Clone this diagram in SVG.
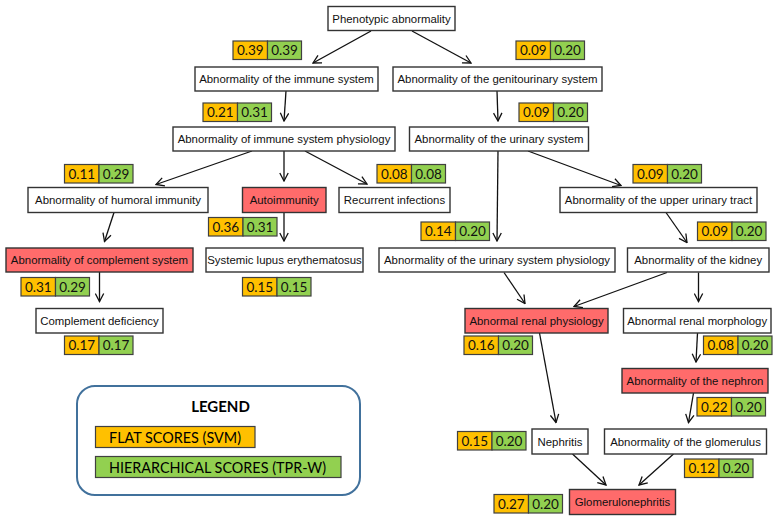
<svg xmlns="http://www.w3.org/2000/svg" width="779" height="520" viewBox="0 0 779 520">
<style>
.n rect{fill:#fff;stroke:#333;stroke-width:1.4}
.n.r rect{fill:#FF6B6B}
.n text{font-family:"Liberation Sans",Arial,sans-serif;font-size:11.4px;fill:#111;text-anchor:middle}
.o{fill:#FFC000;stroke:#404040;stroke-width:1.2}
.g{fill:#92D050;stroke:#404040;stroke-width:1.2}
.s text{font-family:Lato,"Open Sans",sans-serif;font-size:13.5px;fill:#111;text-anchor:middle}
#edges line{stroke:#111;stroke-width:1.3;marker-end:url(#ah)}
.lg{font-family:Lato,"Open Sans",sans-serif;fill:#000}
</style>
<defs>
<marker id="ah" viewBox="0 0 10 10" refX="9" refY="5" markerWidth="10" markerHeight="10" markerUnits="userSpaceOnUse" orient="auto">
<path d="M1,0.8 L9,5 L1,9.2" fill="none" stroke="#111" stroke-width="1.3"/>
</marker>
</defs>
<rect width="779" height="520" fill="#fff"/>

<g id="edges">
<line x1="371" y1="31" x2="313" y2="63"/>
<line x1="412" y1="31" x2="471" y2="63"/>
<line x1="286" y1="91" x2="284" y2="121"/>
<line x1="497" y1="91" x2="498" y2="121"/>
<line x1="252" y1="151" x2="156" y2="184.5"/>
<line x1="284" y1="151" x2="284" y2="181"/>
<line x1="305" y1="151" x2="367" y2="184"/>
<line x1="498" y1="151" x2="497" y2="241"/>
<line x1="528" y1="151" x2="621" y2="185.5"/>
<line x1="114" y1="212.5" x2="104.5" y2="241.5"/>
<line x1="284" y1="212.5" x2="284" y2="241"/>
<line x1="99.5" y1="272" x2="99.5" y2="301.5"/>
<line x1="666" y1="212.5" x2="687" y2="242.5"/>
<line x1="504" y1="272.5" x2="525" y2="303.5"/>
<line x1="667" y1="272.5" x2="574" y2="306.5"/>
<line x1="698.5" y1="272.5" x2="698.5" y2="301.5"/>
<line x1="539.5" y1="333" x2="556" y2="422.5"/>
<line x1="697.5" y1="333" x2="696" y2="362"/>
<line x1="693.5" y1="393" x2="688.5" y2="422.5"/>
<line x1="572.5" y1="454" x2="606" y2="485"/>
<line x1="673.5" y1="454" x2="639" y2="485"/>
</g>

<g id="n-phenotypic" class="n"><rect x="328" y="6.5" width="127" height="24"/><text x="391.5" y="22.5">Phenotypic abnormality</text></g>
<g id="n-immune" class="n"><rect x="195" y="67" width="183" height="24"/><text x="286.5" y="83">Abnormality of the immune system</text></g>
<g id="n-genito" class="n"><rect x="393" y="67" width="209" height="24"/><text x="497.5" y="83">Abnormality of the genitourinary system</text></g>
<g id="n-immphys" class="n"><rect x="173" y="127" width="222" height="24"/><text x="284" y="143">Abnormality of immune system physiology</text></g>
<g id="n-urinary" class="n"><rect x="409.5" y="127" width="179" height="24"/><text x="499" y="143">Abnormality of the urinary system</text></g>
<g id="n-humoral" class="n"><rect x="28" y="187.5" width="180" height="25"/><text x="118" y="204">Abnormality of humoral immunity</text></g>
<g id="n-autoimmunity" class="n r"><rect x="242.5" y="187.5" width="83.5" height="25"/><text x="284.2" y="204">Autoimmunity</text></g>
<g id="n-recurrent" class="n"><rect x="339" y="187.5" width="111" height="25"/><text x="394.5" y="204">Recurrent infections</text></g>
<g id="n-upper" class="n"><rect x="560" y="187.5" width="197" height="25"/><text x="658.5" y="204">Abnormality of the upper urinary tract</text></g>
<g id="n-complement" class="n r"><rect x="6" y="248" width="187" height="24"/><text x="99.5" y="264">Abnormality of complement system</text></g>
<g id="n-sle" class="n"><rect x="206" y="248" width="157" height="24"/><text x="284.5" y="264">Systemic lupus erythematosus</text></g>
<g id="n-urphys" class="n"><rect x="379" y="248" width="236" height="24"/><text x="497" y="264">Abnormality of the urinary system physiology</text></g>
<g id="n-kidney" class="n"><rect x="627.5" y="248" width="141.5" height="24"/><text x="698.2" y="264">Abnormality of the kidney</text></g>
<g id="n-compdef" class="n"><rect x="36" y="308.5" width="127" height="24.5"/><text x="99.5" y="324.5">Complement deficiency</text></g>
<g id="n-renphys" class="n r"><rect x="465" y="308.5" width="143" height="24.5"/><text x="536.5" y="324.5">Abnormal renal physiology</text></g>
<g id="n-renmorph" class="n"><rect x="623.5" y="308.5" width="147.5" height="24.5"/><text x="697.2" y="324.5">Abnormal renal morphology</text></g>
<g id="n-nephron" class="n r"><rect x="622" y="368.5" width="146" height="24.5"/><text x="695" y="384.5">Abnormality of the nephron</text></g>
<g id="n-nephritis" class="n"><rect x="532" y="429" width="56" height="25"/><text x="560" y="445.5">Nephritis</text></g>
<g id="n-glomerulus" class="n"><rect x="604.5" y="429" width="162" height="25"/><text x="685.5" y="445.5">Abnormality of the glomerulus</text></g>
<g id="n-glomerulonephritis" class="n r"><rect x="569.5" y="489.5" width="106" height="25"/><text x="622.5" y="506">Glomerulonephritis</text></g>

<g id="scores" class="s">
<g transform="translate(233,41)"><rect class="o" width="34.5" height="18.5"/><rect class="g" x="34.5" width="34" height="18.5"/><text x="17.3" y="14">0.39</text><text x="51.5" y="14">0.39</text></g>
<g transform="translate(516,41)"><rect class="o" width="34.5" height="18.5"/><rect class="g" x="34.5" width="34" height="18.5"/><text x="17.3" y="14">0.09</text><text x="51.5" y="14">0.20</text></g>
<g transform="translate(203,103)"><rect class="o" width="34.5" height="18.5"/><rect class="g" x="34.5" width="34" height="18.5"/><text x="17.3" y="14">0.21</text><text x="51.5" y="14">0.31</text></g>
<g transform="translate(519,103)"><rect class="o" width="34.5" height="18.5"/><rect class="g" x="34.5" width="34" height="18.5"/><text x="17.3" y="14">0.09</text><text x="51.5" y="14">0.20</text></g>
<g transform="translate(64.5,164.5)"><rect class="o" width="34.5" height="18.5"/><rect class="g" x="34.5" width="34" height="18.5"/><text x="17.3" y="14">0.11</text><text x="51.5" y="14">0.29</text></g>
<g transform="translate(377,164.5)"><rect class="o" width="34.5" height="18.5"/><rect class="g" x="34.5" width="34" height="18.5"/><text x="17.3" y="14">0.08</text><text x="51.5" y="14">0.08</text></g>
<g transform="translate(633,164.5)"><rect class="o" width="34.5" height="18.5"/><rect class="g" x="34.5" width="34" height="18.5"/><text x="17.3" y="14">0.09</text><text x="51.5" y="14">0.20</text></g>
<g transform="translate(208.5,217.5)"><rect class="o" width="34.5" height="18.5"/><rect class="g" x="34.5" width="34" height="18.5"/><text x="17.3" y="14">0.36</text><text x="51.5" y="14">0.31</text></g>
<g transform="translate(421,222)"><rect class="o" width="34.5" height="18.5"/><rect class="g" x="34.5" width="34" height="18.5"/><text x="17.3" y="14">0.14</text><text x="51.5" y="14">0.20</text></g>
<g transform="translate(697.5,222)"><rect class="o" width="34.5" height="18.5"/><rect class="g" x="34.5" width="34" height="18.5"/><text x="17.3" y="14">0.09</text><text x="51.5" y="14">0.20</text></g>
<g transform="translate(21,277.5)"><rect class="o" width="34.5" height="18.5"/><rect class="g" x="34.5" width="34" height="18.5"/><text x="17.3" y="14">0.31</text><text x="51.5" y="14">0.29</text></g>
<g transform="translate(242.5,277.5)"><rect class="o" width="34.5" height="18.5"/><rect class="g" x="34.5" width="34" height="18.5"/><text x="17.3" y="14">0.15</text><text x="51.5" y="14">0.15</text></g>
<g transform="translate(64.5,336)"><rect class="o" width="34.5" height="18.5"/><rect class="g" x="34.5" width="34" height="18.5"/><text x="17.3" y="14">0.17</text><text x="51.5" y="14">0.17</text></g>
<g transform="translate(464,336)"><rect class="o" width="34.5" height="18.5"/><rect class="g" x="34.5" width="34" height="18.5"/><text x="17.3" y="14">0.16</text><text x="51.5" y="14">0.20</text></g>
<g transform="translate(703.5,336)"><rect class="o" width="34.5" height="18.5"/><rect class="g" x="34.5" width="34" height="18.5"/><text x="17.3" y="14">0.08</text><text x="51.5" y="14">0.20</text></g>
<g transform="translate(697,397.5)"><rect class="o" width="34.5" height="18.5"/><rect class="g" x="34.5" width="34" height="18.5"/><text x="17.3" y="14">0.22</text><text x="51.5" y="14">0.20</text></g>
<g transform="translate(457.5,431.5)"><rect class="o" width="34.5" height="18.5"/><rect class="g" x="34.5" width="34" height="18.5"/><text x="17.3" y="14">0.15</text><text x="51.5" y="14">0.20</text></g>
<g transform="translate(684.5,459)"><rect class="o" width="34.5" height="18.5"/><rect class="g" x="34.5" width="34" height="18.5"/><text x="17.3" y="14">0.12</text><text x="51.5" y="14">0.20</text></g>
<g transform="translate(494,494.5)"><rect class="o" width="34.5" height="18.5"/><rect class="g" x="34.5" width="34" height="18.5"/><text x="17.3" y="14">0.27</text><text x="51.5" y="14">0.20</text></g>
</g>

<g id="legend">
<rect x="77" y="386" width="283" height="109" rx="18" ry="18" fill="#fff" stroke="#41719C" stroke-width="2"/>
<text class="lg" x="220.5" y="412" font-size="15" font-weight="bold" text-anchor="middle">LEGEND</text>
<rect x="95.5" y="426.5" width="159.5" height="21" class="o"/>
<text class="lg" x="109" y="443" font-size="15.5" textLength="132" lengthAdjust="spacingAndGlyphs">FLAT SCORES (SVM)</text>
<rect x="95.5" y="456.5" width="245.5" height="21" class="g"/>
<text class="lg" x="109" y="473" font-size="15.5" textLength="217" lengthAdjust="spacingAndGlyphs">HIERARCHICAL SCORES (TPR-W)</text>
</g>
</svg>
